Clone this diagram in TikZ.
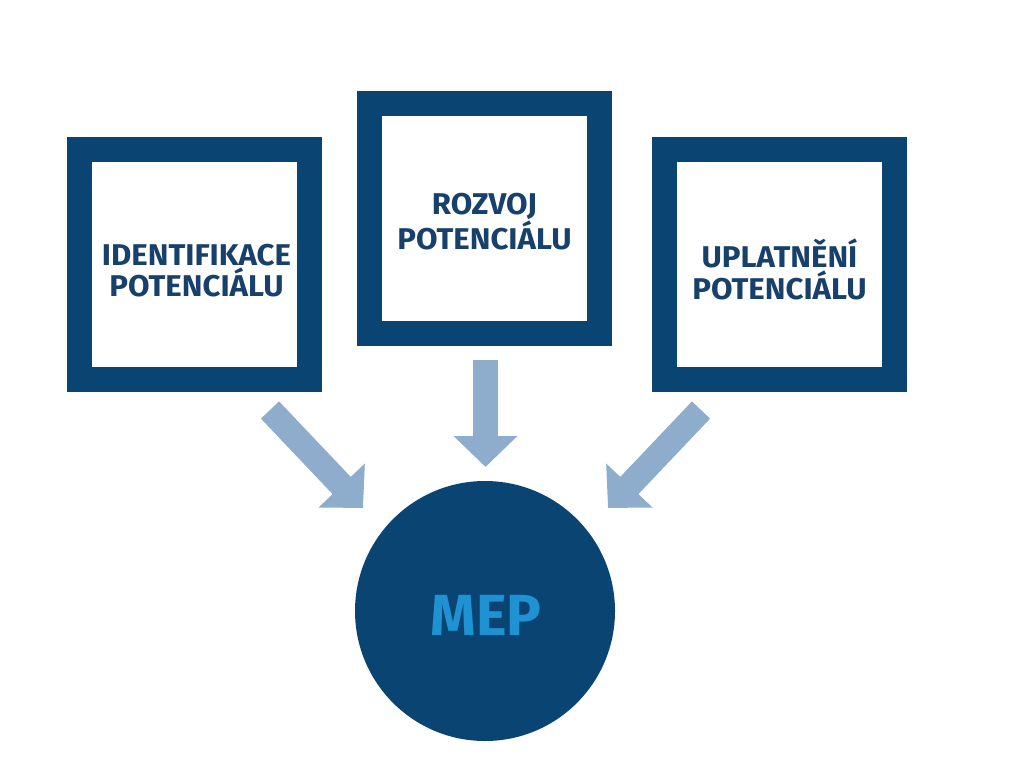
\documentclass[tikz,border=0pt]{standalone}
\usepackage{fontspec}
\setmainfont{Fira Sans}
\newfontfamily\boxfont[FakeStretch=1.04]{Fira Sans}
\usetikzlibrary{arrows.meta}
\definecolor{navy}{HTML}{0A4472}
\definecolor{boxtext}{HTML}{17406A}
\definecolor{arrowblue}{HTML}{8EACCB}
\definecolor{meptext}{HTML}{1F92D3}
\tikzset{
  frame/.style={draw=navy, line width=25pt, fill=white, minimum width=230pt, minimum height=230pt, inner sep=0pt},
  framelabel/.style={align=center, text=boxtext, inner sep=0pt,
    font=\boxfont\fontsize{30}{31.5}\selectfont\bfseries},
  blockarrow/.style={draw=arrowblue, line width=25pt, -{Triangle[length=31pt,width=62pt]}},
  mepnode/.style={circle, fill=navy, minimum size=260pt, inner sep=0pt},
  meplabel/.style={text=meptext, inner sep=0pt, font=\fontsize{58}{60}\selectfont\bfseries}
}
\begin{document}
\begin{tikzpicture}[x=1pt,y=-1pt]
\useasboundingbox (0,0) rectangle (1024,760);
\node[frame] (ident) at (194.5,264.5) {};
\node[frame] (rozvoj) at (484.5,218.5) {};
\node[frame] (uplat) at (779.5,264.5) {};
\node[framelabel] (identt) at (196.5,270.5) {IDENTIFIKACE\\POTENCIÁLU};
\node[framelabel] (rozvojt) at (484.5,221.5) {ROZVOJ\\POTENCIÁLU};
\node[framelabel] (uplatt) at (779.5,269.5) {UPLATNĚNÍ\\POTENCIÁLU};
\node[mepnode] (mep) at (485,611) {};
\node[meplabel] (mept) at (486,615) {MEP};
\coordinate (a1s) at (270,410);
\coordinate (a1e) at (363,508);
\coordinate (a2s) at (485.5,360);
\coordinate (a2e) at (485.5,467);
\coordinate (a3s) at (701,410);
\coordinate (a3e) at (608,508);
\draw[blockarrow] (a1s) -- (a1e);
\draw[blockarrow] (a2s) -- (a2e);
\draw[blockarrow] (a3s) -- (a3e);
\end{tikzpicture}
\end{document}
